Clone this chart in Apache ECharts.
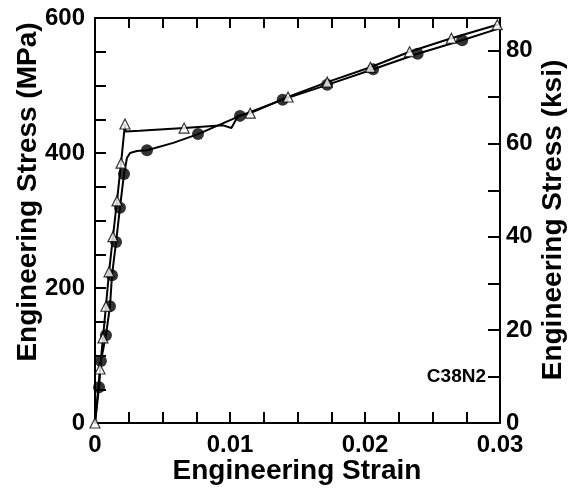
<!DOCTYPE html>
<html><head><meta charset="utf-8">
<script src="https://cdn.jsdelivr.net/npm/echarts@6/dist/echarts.min.js"></script>
<style>html,body{margin:0;padding:0;background:#fff;overflow:hidden;width:571px;height:493px}#c{width:571px;height:493px}</style>
</head><body><div id="c"></div>
<script>
// Filled-circle specimen: full line path and marker points (strain, MPa)
const circleLine = [[0,0],[0.0003,53],[0.00044,92],[0.00081,130],[0.00111,173],[0.00126,219],[0.00156,268],[0.00185,319],[0.00215,369],[0.00237,393],[0.0026,400],[0.0031,403],[0.00385,404],[0.0058,415],[0.00763,428],[0.01074,455],[0.0139,479],[0.0172,501],[0.0206,524],[0.0239,547],[0.0272,567],[0.03,585]];
const circleMarks = [[0.0003,53],[0.00044,92],[0.00081,130],[0.00111,173],[0.00126,219],[0.00156,268],[0.00185,319],[0.00215,369],[0.00385,404],[0.00763,428],[0.01074,455],[0.0139,479],[0.0172,501],[0.0206,524],[0.0239,547],[0.0272,567]];
// Open-triangle specimen
const triLine = [[0,0],[0.00037,80],[0.00059,126],[0.00081,173],[0.00104,224],[0.00133,276],[0.00163,329],[0.00193,385],[0.00222,443],[0.00226,432],[0.0033,433],[0.0066,437],[0.0095,441],[0.0101,437],[0.0106,455],[0.0115,459],[0.0143,483],[0.0172,505],[0.0204,527],[0.0233,550],[0.0264,570],[0.0298,590],[0.03,591]];
const triMarks = [[0,0],[0.00037,80],[0.00059,126],[0.00081,173],[0.00104,224],[0.00133,276],[0.00163,329],[0.00193,385],[0.00222,443],[0.0066,437],[0.0115,459],[0.0143,483],[0.0172,505],[0.0204,527],[0.0233,550],[0.0264,570],[0.0298,590]];

const strainLabels = ['0','0.01','0.02','0.03'];
const mpaLabels = [0,200,400,600];
const ksiLabels = [0,20,40,60,80];
const specimenLabel = 'C38N2';
const specimenLabelKsi = 10;
const MPA_PER_KSI = 6.894757;
const xTitle = 'Engineering Strain';
const yLeftTitle = 'Engineering Stress (MPa)';
const yRightTitle = 'Engineering Stress (ksi)';

const F = 'Liberation Sans, Arial, Helvetica, sans-serif';
const chart = echarts.init(document.getElementById('c'));
const axisLine = {show:true, onZero:false, lineStyle:{color:'#000', width:2}};
const tick = len => ({show:true, inside:true, length:len, lineStyle:{color:'#000', width:2}});
const lbl = {fontFamily:F, fontWeight:'bold', fontSize:24, color:'#000'};
const titleStyle = {fontFamily:F, fontWeight:'bold', fontSize:28, fill:'#000', align:'center', verticalAlign:'middle'};

chart.setOption({
  animation:false,
  backgroundColor:'#fff',
  grid:{left:95, right:71, top:18, bottom:70, containLabel:false},
  xAxis:[{
    type:'value', min:0, max:0.03, interval:0.0025, position:'bottom',
    axisLine, splitLine:{show:false}, axisTick:tick(11),
    axisLabel:Object.assign({margin:10, showMinLabel:true, showMaxLabel:true, formatter:v=>{const k=Math.round(v*400); return k%4===0?strainLabels[k/4]:'';}}, lbl)
  },{
    type:'value', min:0, max:0.03, interval:0.0025, position:'top',
    axisLine, splitLine:{show:false}, axisTick:tick(10),
    axisLabel:{show:false}
  }],
  yAxis:[{
    type:'value', min:0, max:600, interval:50, position:'left',
    axisLine, splitLine:{show:false}, axisTick:tick(11),
    axisLabel:Object.assign({margin:10, formatter:v=>mpaLabels.indexOf(Math.round(v))>=0?String(Math.round(v)):''}, lbl)
  },{
    type:'value', min:0, max:600/MPA_PER_KSI, interval:10, position:'right',
    axisLine, splitLine:{show:false}, axisTick:tick(12),
    axisLabel:Object.assign({margin:6, formatter:v=>ksiLabels.indexOf(Math.round(v*1000)/1000)>=0?String(Math.round(v)):''}, lbl)
  }],
  series:[
    {type:'line', data:triLine, showSymbol:false, symbol:'none', lineStyle:{color:'#000', width:2}, z:2},
    {type:'line', data:circleLine, showSymbol:false, symbol:'none', lineStyle:{color:'#000', width:2}, z:2},
    {type:'scatter', data:circleMarks, symbol:'circle', symbolSize:12, itemStyle:{color:'#000'}, z:3},
    {type:'scatter', data:triMarks, symbol:'triangle', symbolSize:10, itemStyle:{color:'#fff', borderColor:'#000', borderWidth:1.2}, z:4}
  ]
});

const py = chart.convertToPixel({yAxisIndex:1}, specimenLabelKsi);
const px = chart.convertToPixel({xAxisIndex:0}, 0.03);
chart.setOption({graphic:[
  {type:'text', x:px-14, y:py, style:{text:specimenLabel, fontFamily:F, fontWeight:'bold', fontSize:19, fill:'#000', align:'right', verticalAlign:'middle'}},
  {type:'text', x:297, y:471, style:Object.assign({text:xTitle}, titleStyle)},
  {type:'text', x:28, y:192, rotation:Math.PI/2, style:Object.assign({text:yLeftTitle}, titleStyle)},
  {type:'text', x:553, y:220, rotation:Math.PI/2, style:Object.assign({text:yRightTitle}, titleStyle)}
]});
</script></body></html>
